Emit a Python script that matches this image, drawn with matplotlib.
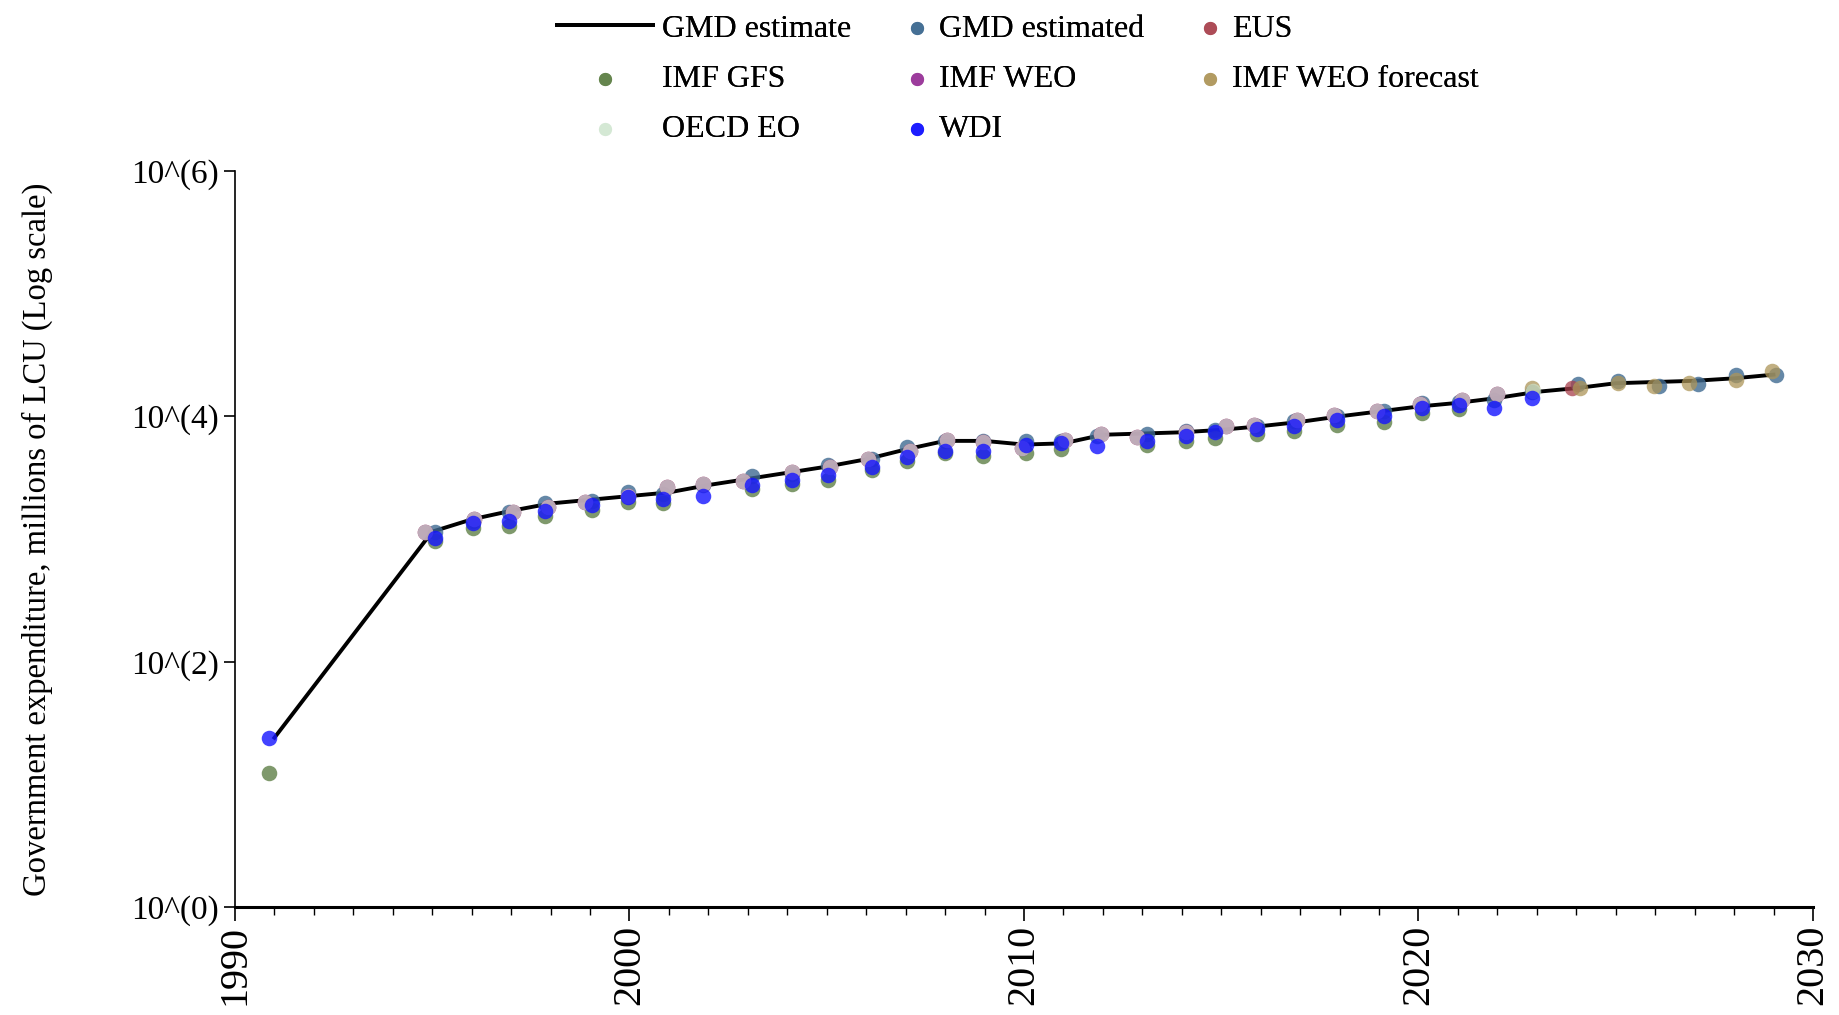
import matplotlib
matplotlib.use("Agg")
import matplotlib.pyplot as plt
import numpy as np

plt.rcParams['font.family'] = 'serif'
plt.rcParams['font.serif'] = ['Liberation Serif', 'DejaVu Serif']

# GMD estimate (line), log10 of millions of LCU
line_years = [1991] + list(range(1995, 2030))
line_log = [1.38, 3.06, 3.16, 3.23, 3.29, 3.32, 3.35, 3.38, 3.44, 3.49, 3.54, 3.59, 3.65,
            3.73, 3.80, 3.80, 3.77, 3.78, 3.85, 3.86, 3.87, 3.89, 3.92, 3.955, 4.00,
            4.04, 4.08, 4.11, 4.15, 4.20, 4.23, 4.27, 4.28, 4.29, 4.31, 4.34]

hist_years = list(range(1995, 2023))
# jitter (years)
gray_off = [-0.18, 0.05, 0.05, -0.06, -0.13, -0.04, -0.05, -0.14, -0.13, 0.11, 0.08, 0.04, 0.10, 0.04,
            -0.05, -0.04, 0.03, -0.04, -0.13, 0.11, 0.13, -0.16, -0.08, -0.14, -0.05, 0.05, 0.10, 0.0]
blue_off = [0.08, 0.03, -0.05, -0.14, 0.05, -0.04, -0.15, -0.14, 0.10, 0.11, 0.03, 0.14, 0.03, 0.01,
            -0.05, 0.06, -0.05, -0.14, 0.13, 0.11, -0.15, -0.09, -0.15, -0.06, 0.13, 0.09, 0.03, -0.09]

# IMF WEO / OECD EO / EUS (overlapping, historical)
weo_log = [3.06, 3.16, 3.22, 3.26, 3.30, 3.35, 3.42, 3.45, 3.47, 3.55, 3.59, 3.65, 3.72, 3.81,
           3.79, 3.74, 3.81, 3.86, 3.83, 3.87, 3.92, 3.93, 3.97, 4.01, 4.045, 4.10, 4.13, 4.18]

# WDI
wdi_years = [1991] + list(range(1995, 2024))
wdi_off = [-0.15] + blue_off + [-0.13]
wdi_log = [1.377, 3.01, 3.13, 3.15, 3.23, 3.28, 3.34, 3.33, 3.35, 3.44, 3.48, 3.52, 3.59, 3.67,
           3.72, 3.72, 3.77, 3.78, 3.76, 3.80, 3.84, 3.87, 3.90, 3.92, 3.97, 4.00, 4.07, 4.09,
           4.07, 4.15]

# IMF GFS
gfs_years = [1991, 1995, 1996, 1997, 1998, 1999, 2000, 2001, 2003, 2004, 2005, 2006, 2007, 2008,
             2009, 2010, 2011, 2013, 2014, 2015, 2016, 2017, 2018, 2019, 2020, 2021]
gfs_off = [-0.15, 0.08, 0.03, -0.05, -0.14, 0.05, -0.04, -0.15, 0.10, 0.11, 0.03, 0.14, 0.03, 0.01,
           -0.05, 0.06, -0.05, 0.13, 0.11, -0.15, -0.09, -0.15, -0.06, 0.13, 0.09, 0.03]
gfs_log = [1.09, 2.98, 3.09, 3.11, 3.19, 3.24, 3.30, 3.29, 3.41, 3.45, 3.48, 3.56, 3.64, 3.70,
           3.68, 3.70, 3.73, 3.77, 3.80, 3.82, 3.86, 3.88, 3.93, 3.955, 4.03, 4.06]

# GMD estimated
gmde_years = list(range(1995, 2030))
gmde_off = blue_off + [-0.13, 0.04, 0.05, 0.11, 0.08, 0.04, 0.07]
gmde_log = [3.06, 3.15, 3.22, 3.29, 3.31, 3.385, 3.37, 3.44, 3.51, 3.53, 3.60, 3.65, 3.75, 3.80,
            3.80, 3.80, 3.80, 3.84, 3.86, 3.88, 3.89, 3.92, 3.96, 4.00, 4.04, 4.11, 4.12, 4.13,
            4.20, 4.26, 4.29, 4.25, 4.26, 4.34, 4.34]

# IMF WEO forecast
fc_years = list(range(2023, 2030))
fc_off = [-0.13, 0.09, 0.05, -0.04, -0.13, 0.04, -0.03]
fc_log = [4.23, 4.23, 4.27, 4.25, 4.27, 4.30, 4.37]

# OECD EO and EUS extend a bit further
oecd_years = hist_years + [2023]
oecd_off = gray_off + [-0.1]
oecd_log = weo_log + [4.21]
eus_years = hist_years + [2024]
eus_off = gray_off + [-0.12]
eus_log = weo_log + [4.23]


def pts(years, off, logs):
    return np.array(years) + np.array(off), 10 ** np.array(logs)


fig = plt.figure(figsize=(18.4, 10.15), dpi=100)
ax = fig.add_axes([0.1277, 0.1064, 0.8576, 0.7251])

ax.plot(line_years, 10 ** np.array(line_log), color='black', lw=2.8, zorder=2,
        label='GMD estimate')

s = 125
h = {}
h['GMD estimated'] = ax.scatter(*pts(gmde_years, gmde_off, gmde_log), s=s, color='#3f6a91',
                                alpha=0.8, lw=0, zorder=3, label='GMD estimated')
h['EUS'] = ax.scatter(*pts(eus_years, eus_off, eus_log), s=s, color='#a8404c', alpha=0.75,
                      lw=0, zorder=3, label='EUS')
h['IMF GFS'] = ax.scatter(*pts(gfs_years, gfs_off, gfs_log), s=s, color='#5f8047', alpha=0.8,
                          lw=0, zorder=3, label='IMF GFS')
h['IMF WEO'] = ax.scatter(*pts(hist_years, gray_off, weo_log), s=s, color='#962f96', alpha=0.75,
                          lw=0, zorder=3, label='IMF WEO')
h['IMF WEO forecast'] = ax.scatter(*pts(fc_years, fc_off, fc_log), s=s, color='#ad9558',
                                   alpha=0.75, lw=0, zorder=3, label='IMF WEO forecast')
h['OECD EO'] = ax.scatter(*pts(oecd_years, oecd_off, oecd_log), s=s, color='#cfe6cf',
                          alpha=0.65, lw=0, zorder=3, label='OECD EO')
h['WDI'] = ax.scatter(*pts(wdi_years, wdi_off, wdi_log), s=s, color='#1414ff', alpha=0.8,
                      lw=0, zorder=4, label='WDI')

ax.set_yscale('log')
ax.set_ylim(1, 1e6)
ax.set_xlim(1990, 2030)
ax.set_yticks([1, 1e2, 1e4, 1e6])
ax.set_yticklabels(['10^(0)', '10^(2)', '10^(4)', '10^(6)'])
ax.yaxis.set_minor_locator(matplotlib.ticker.NullLocator())
ax.set_xticks([1990, 2000, 2010, 2020, 2030])
ax.set_xticks(np.arange(1990, 2031, 1), minor=True)
ax.tick_params(axis='x', labelrotation=90, labelsize=29, length=10, width=1.2, pad=3)
ax.tick_params(axis='x', which='minor', length=6, width=1)
ax.tick_params(axis='y', labelsize=24, length=8, width=1.2)
ax.spines['top'].set_visible(False)
ax.spines['right'].set_visible(False)
ax.spines['bottom'].set_linewidth(2.2)
ax.spines['left'].set_linewidth(1.2)
ax.set_ylabel('Government expenditure, millions of LCU (Log scale)', fontsize=23.5, labelpad=56)

line_h = ax.get_lines()[0]
columns = [
    ([line_h, h['IMF GFS'], h['OECD EO']], 0.3027, 3.0),
    ([h['GMD estimated'], h['IMF WEO'], h['WDI']], 0.4913, 0.8),
    ([h['EUS'], h['IMF WEO forecast']], 0.6505, 0.8),
]
for handles, x0, hl in columns:
    leg = fig.legend(handles=handles, labels=[o.get_label() for o in handles], ncol=1,
                     frameon=False, loc='upper left', bbox_to_anchor=(x0, 0.986),
                     fontsize=23, handlelength=hl, handletextpad=0.3, labelspacing=0.66,
                     borderpad=0, borderaxespad=0, markerscale=0.85)
    fig.add_artist(leg)

fig.savefig('out.png', dpi=100)
